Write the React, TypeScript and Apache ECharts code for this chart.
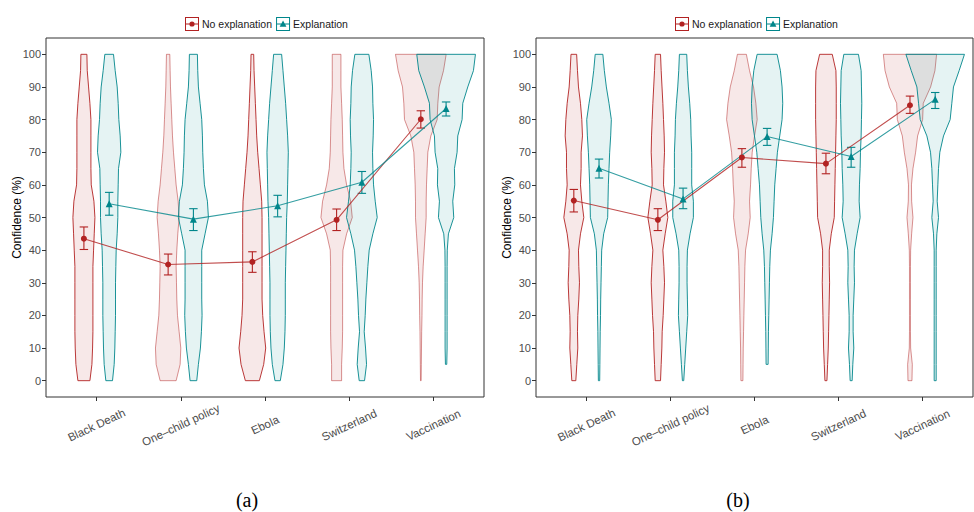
import React, { useEffect, useRef } from "react";
import * as echarts from "echarts";

// ---------- data ----------
const CATEGORIES = ["Black Death", "One\u2013child policy", "Ebola", "Switzerland", "Vaccination"];
const X_TICKS = [1, 2, 3, 4, 5];
const Y_TICKS = [0, 10, 20, 30, 40, 50, 60, 70, 80, 90, 100];
// confidence levels at which the violin densities were read (0 .. 100, step 5)
const DENSITY_LEVELS = [0, 5, 10, 15, 20, 25, 30, 35, 40, 45, 50, 55, 60, 65, 70, 75, 80, 85, 90, 95, 100];

// Panel (a) means and 95% error bars
const A_NO_MEAN = [43.5, 35.6, 36.4, 49.3, 80.1];
const A_NO_LO = [40.2, 32.4, 33.2, 46.0, 77.4];
const A_NO_HI = [47.1, 38.8, 39.5, 52.6, 82.7];
const A_EX_MEAN = [54.2, 49.5, 53.6, 60.8, 83.4];
const A_EX_LO = [50.7, 46.0, 50.2, 57.4, 81.1];
const A_EX_HI = [57.7, 52.7, 56.8, 64.1, 85.4];

// Panel (b) means and 95% error bars
const B_NO_MEAN = [55.2, 49.3, 68.4, 66.5, 84.4];
const B_NO_LO = [51.7, 46.0, 65.4, 63.4, 81.9];
const B_NO_HI = [58.6, 52.7, 71.1, 69.7, 87.2];
const B_EX_MEAN = [65.1, 55.7, 74.8, 68.7, 86.2];
const B_EX_LO = [62.1, 52.7, 72.1, 65.4, 83.4];
const B_EX_HI = [67.9, 59.0, 77.3, 71.5, 88.3];

// Violin densities (relative), per category, at DENSITY_LEVELS (null = outside data range)
const A_NO_DENSITY = [
  [18, 24, 26, 27, 27, 27, 27, 27, 29, 31, 33, 30, 22, 21, 21, 21, 21, 18, 14, 10, 9],
  [24, 36, 38, 33, 28, 26, 25, 24, 26, 29, 33, 30, 24, 20, 16, 13, 11, 9, 7, 6, 5],
  [21, 34, 40, 35, 31, 29, 29, 29, 29, 29, 29, 28, 24, 20, 16, 13, 11, 9, 7, 5, 4],
  [15, 15, 17, 18, 18, 18, 18, 18, 19, 30, 47, 42, 30, 22, 19, 18, 17, 15, 13, 13, 13],
  [1, 1.5, 2, 2.5, 3.5, 4, 5, 7, 10, 13, 16, 16, 17, 19, 21, 30, 49, 51, 55, 68, 76],
];
const A_EX_DENSITY = [
  [10, 15, 17, 18, 19, 19, 19, 20, 21, 24, 26, 26, 27, 28, 35, 33, 29, 27, 24, 18, 13],
  [10, 15, 21, 24, 26, 25, 25, 25, 25, 35, 45, 42, 33, 30, 28, 27, 25, 20, 15, 13, 12],
  [8, 16, 20, 22, 23, 23, 23, 24, 25, 26, 27, 29, 30, 31, 32, 30, 27, 24, 20, 16, 12],
  [8, 14, 11, 7, 10, 12, 15, 18, 22, 33, 46, 40, 35, 33, 32, 34, 35, 33, 32, 28, 21],
  [null, 2, 3, 3, 3, 3, 3, 3, 3.5, 7, 23, 20, 26, 25, 33, 35, 48, 50, 65, 82, 88],
];
const B_NO_DENSITY = [
  [6, 9, 12, 11, 12, 15, 17, 15, 14, 20, 30, 24, 20, 22, 22, 26, 24, 20, 14, 11, 8.5],
  [8, 10, 12, 13, 16, 18, 20, 18, 15, 22, 30, 24, 17, 18, 20, 19, 17, 15, 12.5, 10, 8],
  [3, 3.5, 4, 5, 6, 7, 8, 9, 11, 19, 25, 23, 26, 28, 31, 38, 46, 42, 35, 23, 13.5],
  [3, 5, 7, 8, 9, 10, 11, 10, 10, 16, 25, 26, 27, 28, 29, 30, 31, 31, 31, 30, 19],
  [6, 7, 2, 1.5, 1.5, 1.5, 1.5, 1.5, 2, 5, 9, 5, 4.5, 9, 17, 23, 38, 40, 62, 75, 80],
];
const B_EX_DENSITY = [
  [2, 2.5, 3, 3.5, 4.5, 5, 6, 7, 8, 14, 26, 27, 28, 30, 32, 35, 37, 30, 22, 16, 11.5],
  [2, 5, 8, 11, 14, 13, 12, 12, 13, 21, 31, 31, 26, 26, 26, 24, 23, 20, 16, 13, 11],
  [null, 3, 3.5, 4, 5, 6, 7, 8, 10, 15, 19, 21, 23, 27, 31, 38, 45, 47, 45, 40, 30],
  [3, 5, 8, 6, 6, 8, 10, 9, 10, 18, 27, 24, 25, 27, 28, 30, 31, 32, 31, 30, 22],
  [3, 3, 3, 3, 3, 3, 3, 3, 3, 5, 10, 6, 8, 10, 14, 25, 45, 50, 55, 72, 88],
];

// ---------- styles ----------
const RED = "#B22222";
const TEAL = "#00868B";
const RED_RGB = "178,34,34";
const TEAL_RGB = "0,134,139";
const FILL_ALPHA = 0.1;
// outline opacity of the "No explanation" violins, per panel (renders lighter for some)
const A_RED_OUTLINE = [1, 0.55, 1, 0.55, 0.55];
const B_RED_OUTLINE = [1, 1, 0.55, 1, 0.55];
const TEAL_OUTLINE = [1, 1, 1, 1, 1];
const DODGE = 0.15;
const DENSITY_SCALE = 1 / 252.6;
const ERRORBAR_WIDTH = 0.1;
const FONT = '"Liberation Sans", Arial, Helvetica, sans-serif';
const ICON_NO =
  "path://M0,0H14V14H0Z M1,1V13H13V1Z M1,6.5H13V7.5H1Z M4.4,7A2.6,2.6,0,1,1,9.6,7A2.6,2.6,0,1,1,4.4,7Z";
const ICON_EX = "path://M0,0H14V14H0Z M1,1V13H13V1Z M1,6.5H13V7.5H1Z M7,3.6L10.4,9.8H3.6Z";

function violinSeries(name: string, idx: number, dens: (number | null)[][], offset: number, rgb: string, outline: number[]) {
  return {
    type: "custom",
    name,
    xAxisIndex: idx,
    yAxisIndex: idx,
    z: 1,
    silent: true,
    data: CATEGORIES.map((_, i) => [i + 1 + offset, 50]),
    encode: { x: 0, y: 1 },
    renderItem: (params: any, api: any) => {
      const i = params.dataIndex;
      const xc = api.value(0);
      const d = dens[i];
      const right: number[][] = [];
      const left: number[][] = [];
      DENSITY_LEVELS.forEach((v, j) => {
        const w = d[j];
        if (w == null) return;
        const hw = w * DENSITY_SCALE;
        right.push(api.coord([xc + hw, v]));
        left.push(api.coord([xc - hw, v]));
      });
      const points = right.concat(left.reverse());
      return {
        type: "polygon",
        shape: { points },
        style: {
          fill: `rgba(${rgb},${FILL_ALPHA})`,
          stroke: `rgba(${rgb},${outline[i]})`,
          lineWidth: 0.9,
        },
      };
    },
  };
}

function errorSeries(name: string, idx: number, lo: number[], hi: number[], offset: number, color: string) {
  return {
    type: "custom",
    name,
    xAxisIndex: idx,
    yAxisIndex: idx,
    z: 3,
    silent: true,
    data: CATEGORIES.map((_, i) => [i + 1 + offset, lo[i], hi[i]]),
    encode: { x: 0, y: [1, 2] },
    renderItem: (params: any, api: any) => {
      const x = api.value(0);
      const top = api.coord([x, api.value(2)]);
      const bot = api.coord([x, api.value(1)]);
      const half = api.size([ERRORBAR_WIDTH, 0])[0] / 2;
      const st = { stroke: color, lineWidth: 1.1 };
      return {
        type: "group",
        children: [
          { type: "line", shape: { x1: top[0], y1: top[1], x2: bot[0], y2: bot[1] }, style: st },
          { type: "line", shape: { x1: top[0] - half, y1: top[1], x2: top[0] + half, y2: top[1] }, style: st },
          { type: "line", shape: { x1: bot[0] - half, y1: bot[1], x2: bot[0] + half, y2: bot[1] }, style: st },
        ],
      };
    },
  };
}

function meanSeries(name: string, idx: number, mean: number[], offset: number, color: string, symbol: string, size: number) {
  return {
    type: "line",
    name,
    xAxisIndex: idx,
    yAxisIndex: idx,
    z: 4,
    silent: true,
    data: CATEGORIES.map((_, i) => [i + 1 + offset, mean[i]]),
    symbol,
    symbolSize: size,
    showAllSymbol: true,
    color,
    itemStyle: { color, opacity: 1 },
    lineStyle: { color, width: 1.1, opacity: 0.8 },
  };
}

const PANELS = [
  {
    noDens: A_NO_DENSITY, exDens: A_EX_DENSITY,
    noMean: A_NO_MEAN, noLo: A_NO_LO, noHi: A_NO_HI,
    exMean: A_EX_MEAN, exLo: A_EX_LO, exHi: A_EX_HI,
    redOutline: A_RED_OUTLINE, caption: "(a)",
  },
  {
    noDens: B_NO_DENSITY, exDens: B_EX_DENSITY,
    noMean: B_NO_MEAN, noLo: B_NO_LO, noHi: B_NO_HI,
    exMean: B_EX_MEAN, exLo: B_EX_LO, exHi: B_EX_HI,
    redOutline: B_RED_OUTLINE, caption: "(b)",
  },
];

const GRID_LEFT = [46, 536];
const LEGEND_LEFT = [180, 670];
const CAPTION_X = [247, 738];

export default function App() {
  const ref = useRef<HTMLDivElement>(null);
  useEffect(() => {
    const chart = echarts.init(ref.current!, null, { renderer: "svg" });
    const series: any[] = [];
    PANELS.forEach((p, idx) => {
      series.push(violinSeries("violin-no-" + idx, idx, p.noDens, -DODGE, RED_RGB, p.redOutline));
      series.push(violinSeries("violin-ex-" + idx, idx, p.exDens, DODGE, TEAL_RGB, TEAL_OUTLINE));
    });
    PANELS.forEach((p, idx) => {
      series.push(meanSeries("No explanation", idx, p.noMean, -DODGE, RED, "circle", 6));
      series.push(meanSeries("Explanation", idx, p.exMean, DODGE, TEAL, "triangle", 7));
      series.push(errorSeries("err-no-" + idx, idx, p.noLo, p.noHi, -DODGE, RED));
      series.push(errorSeries("err-ex-" + idx, idx, p.exLo, p.exHi, DODGE, TEAL));
    });

    const option: any = {
      animation: false,
      backgroundColor: "#ffffff",
      textStyle: { fontFamily: FONT },
      legend: PANELS.map((_, idx) => ({
        left: LEGEND_LEFT[idx],
        top: 12,
        itemWidth: 14,
        itemHeight: 14,
        itemGap: 4,
        selectedMode: false,
        textStyle: { fontSize: 10.5, color: "#1a1a1a", fontFamily: FONT, padding: [0, 0, 0, -2] },
        data: [
          { name: "No explanation", icon: ICON_NO },
          { name: "Explanation", icon: ICON_EX },
        ],
      })),
      grid: PANELS.map((_, idx) => ({
        left: GRID_LEFT[idx],
        top: 38,
        width: idx === 0 ? 438 : 437,
        height: 359,
        show: true,
        borderColor: "#333333",
        borderWidth: 1,
        backgroundColor: "transparent",
        containLabel: false,
      })),
      xAxis: PANELS.map((_, idx) => ({
        type: "value",
        gridIndex: idx,
        min: 0.4,
        max: 5.6,
        position: "bottom",
        axisLine: { show: false, onZero: false },
        splitLine: { show: false },
        axisTick: { show: true, customValues: X_TICKS, length: 4, lineStyle: { color: "#333333" } },
        axisLabel: {
          customValues: X_TICKS,
          formatter: (v: number) => CATEGORIES[Math.round(v) - 1] ?? "",
          rotate: 25,
          align: "center",
          verticalAlign: "middle",
          margin: 28,
          fontSize: 11.5,
          color: "#4d4d4d",
          fontFamily: FONT,
        },
      })),
      yAxis: PANELS.map((_, idx) => ({
        type: "value",
        gridIndex: idx,
        min: -5,
        max: 105,
        axisLine: { show: false, onZero: false },
        splitLine: { show: false },
        axisTick: { show: true, customValues: Y_TICKS, length: 4, lineStyle: { color: "#333333" } },
        axisLabel: { customValues: Y_TICKS, fontSize: 11, color: "#4d4d4d", margin: 5, fontFamily: FONT },
        name: "Confidence (%)",
        nameLocation: "middle",
        nameGap: 23,
        nameMoveOverlap: false,
        nameTextStyle: { fontSize: 12, color: "#000000", fontFamily: FONT },
      })),
      graphic: PANELS.map((p, idx) => ({
        type: "text",
        x: CAPTION_X[idx],
        y: 500,
        style: {
          text: p.caption,
          font: '20px "Liberation Serif", "Times New Roman", serif',
          fill: "#000000",
          textAlign: "center",
          textVerticalAlign: "middle",
        },
      })),
      series,
    };
    chart.setOption(option);
    return () => chart.dispose();
  }, []);
  return <div ref={ref} style={{ position: "absolute", left: 0, top: 0, width: 974, height: 512 }} />;
}
